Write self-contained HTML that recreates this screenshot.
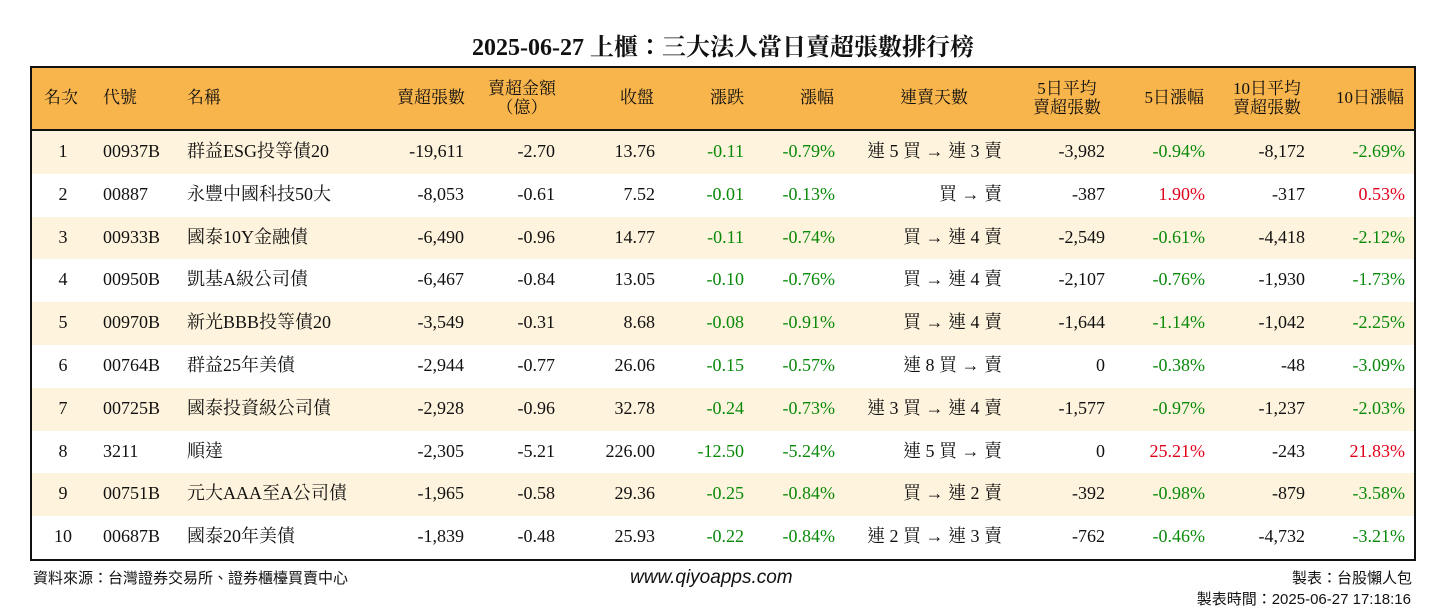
<!DOCTYPE html>
<html><head><meta charset="utf-8"><style>
body{margin:0;width:1446px;height:612px;background:#fff;font-family:"Liberation Serif","Noto Serif CJK TC",serif;color:#111;position:relative;overflow:hidden}
.a{position:absolute;white-space:nowrap}
#title{left:0;width:1446px;top:27px;text-align:center;font-size:24px;font-weight:bold}
#box{position:absolute;left:30px;top:66px;width:1382px;height:491px;border:2px solid #111;overflow:hidden}
#hdr{position:absolute;left:0;top:0;width:1382px;height:61px;background:#F8B54C;border-bottom:2px solid #111}
.row{position:absolute;left:0;width:1382px;height:42.8px}
.c{position:absolute;font-size:18px;line-height:41px;white-space:nowrap}
.h{position:absolute;font-size:17px;line-height:19px;white-space:nowrap;text-align:center}
.g{color:#0a8a0a}.r{color:#e0001b}
.foot{font-size:15px;font-family:"Liberation Sans","Noto Sans CJK TC",sans-serif}
</style></head><body>
<div class="a" id="title">2025-06-27 上櫃：三大法人當日賣超張數排行榜</div>
<div id="box">
<div id="hdr"></div>
<div id="rows"></div>
</div>
<div class="a foot" style="left:33px;top:567px">資料來源：台灣證券交易所、證券櫃檯買賣中心</div>
<div class="a" style="left:630px;top:567px;font-size:19px;font-style:italic;font-family:'Liberation Sans',sans-serif">www.qiyoapps.com</div>
<div class="a foot" style="right:34px;top:567px">製表：台股懶人包</div>
<div class="a foot" style="right:35px;top:588px">製表時間：2025-06-27 17:18:16</div>
<script>
const ranks=[1,2,3,4,5,6,7,8,9,10];
const codes=["00937B","00887","00933B","00950B","00970B","00764B","00725B","3211","00751B","00687B"];
const names=["群益ESG投等債20","永豐中國科技50大","國泰10Y金融債","凱基A級公司債","新光BBB投等債20","群益25年美債","國泰投資級公司債","順達","元大AAA至A公司債","國泰20年美債"];
const sellLots=["-19,611","-8,053","-6,490","-6,467","-3,549","-2,944","-2,928","-2,305","-1,965","-1,839"];
const sellAmt=["-2.70","-0.61","-0.96","-0.84","-0.31","-0.77","-0.96","-5.21","-0.58","-0.48"];
const closes=["13.76","7.52","14.77","13.05","8.68","26.06","32.78","226.00","29.36","25.93"];
const chg=["-0.11","-0.01","-0.11","-0.10","-0.08","-0.15","-0.24","-12.50","-0.25","-0.22"];
const chgPct=["-0.79%","-0.13%","-0.74%","-0.76%","-0.91%","-0.57%","-0.73%","-5.24%","-0.84%","-0.84%"];
const streak=["連 5 買 → 連 3 賣","買 → 賣","買 → 連 4 賣","買 → 連 4 賣","買 → 連 4 賣","連 8 買 → 賣","連 3 買 → 連 4 賣","連 5 買 → 賣","買 → 連 2 賣","連 2 買 → 連 3 賣"];
const avg5=["-3,982","-387","-2,549","-2,107","-1,644","0","-1,577","0","-392","-762"];
const pct5=["-0.94%","1.90%","-0.61%","-0.76%","-1.14%","-0.38%","-0.97%","25.21%","-0.98%","-0.46%"];
const avg10=["-8,172","-317","-4,418","-1,930","-1,042","-48","-1,237","-243","-879","-4,732"];
const pct10=["-2.69%","0.53%","-2.12%","-1.73%","-2.25%","-3.09%","-2.03%","21.83%","-3.58%","-3.21%"];
const box=document.getElementById('hdr');
const heads=[["名次",'l',12],["代號",'l',71],["名稱",'l',155],["賣超張數",'r',433],["賣超金額<br>（億）",'c',490],["收盤",'r',622],["漲跌",'r',712],["漲幅",'r',802],["連賣天數",'c',902],["5日平均<br>賣超張數",'c',1035],["5日漲幅",'r',1172],["10日平均<br>賣超張數",'c',1235],["10日漲幅",'r',1372]];
heads.forEach(h=>{const d=document.createElement('div');d.className='h';d.innerHTML=h[0];


const two=h[0].includes('<br>');d.style.top=two?'11px':'20px';
if(h[1]=='l')d.style.left=h[2]+'px';else if(h[1]=='r'){d.style.right=(1382-h[2])+'px';}else{d.style.left=(h[2]-40)+'px';d.style.width='80px';}
box.appendChild(d);});
const rows=document.getElementById('rows');
const col=v=>v.startsWith('-')?'g':(v==='0'?'':'r');
ranks.forEach((rk,i)=>{const r=document.createElement('div');r.className='row';r.style.top=(63+i*42.8)+'px';r.style.background=i%2==0?'#FEF3DC':'#fff';


const cells=[[rk,'c',31,''],[codes[i],'l',71,''],[names[i],'l',155,''],[sellLots[i],'r',432,''],[sellAmt[i],'r',523,''],[closes[i],'r',623,''],[chg[i],'r',712,col(chg[i])],[chgPct[i],'r',803,col(chgPct[i])],[streak[i],'r',970,''],[avg5[i],'r',1073,''],[pct5[i],'r',1173,col(pct5[i])],[avg10[i],'r',1273,''],[pct10[i],'r',1373,col(pct10[i])]];
cells.forEach(c=>{const d=document.createElement('div');d.className='c '+c[3];d.textContent=c[0];


if(c[1]=='l')d.style.left=c[2]+'px';else if(c[1]=='r')d.style.right=(1382-c[2])+'px';else{d.style.left=(c[2]-20)+'px';d.style.width='40px';d.style.textAlign='center';}
r.appendChild(d);});
rows.appendChild(r);});
</script>
</body></html>
